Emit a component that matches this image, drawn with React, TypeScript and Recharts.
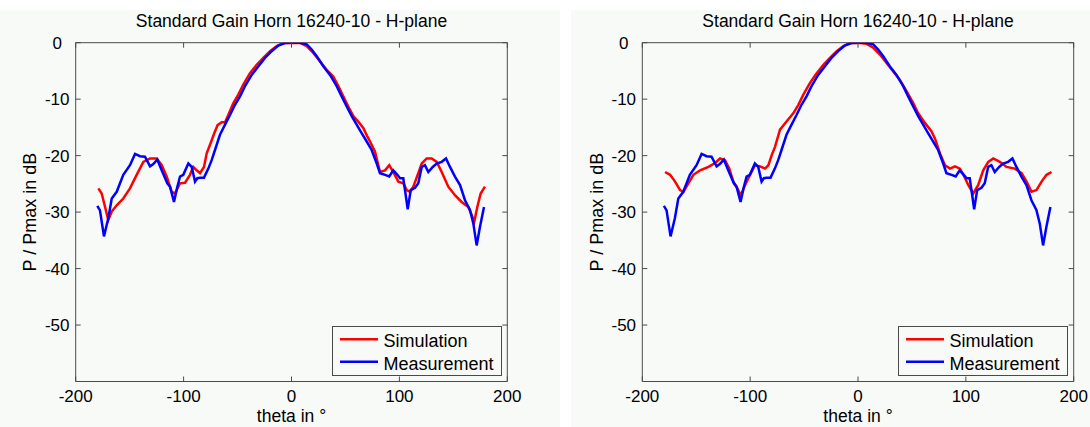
import React from 'react';
import { LineChart, Line, XAxis, YAxis, ReferenceArea, Legend } from 'recharts';

const AXIS = '#4a4a4a';
const BG = '#f8faf7';
const FONT = '"Liberation Sans", Arial, Helvetica, sans-serif';

// measured pattern (same in both panels)
const thetaMeas = [
  -180, -177.5, -173.8, -169.8, -166.6, -162, -155.9, -149.7, -145, -140.4, -135.8, -131.1, -128.1, -124.4,
  -120.3, -115.1, -112.6, -108.9, -105.8, -103.3, -100.3, -95.6, -92.5, -89.4, -87.3, -84.8, -81.1, -77.1,
  -74, -70.9, -66.3, -61.6, -57, -52.4, -47.7, -43.1, -36.9, -30.8, -24.6, -18.4, -12.2, -6, 0, 7.9, 14.1,
  18.7, 23.4, 29.6, 35.7, 41.9, 46.5, 51.2, 55.8, 60.4, 65, 69.7, 74.3, 79, 82, 86.7, 90.6, 94.3, 98.1, 100.6,
  103.6, 105.2, 107.7, 110.5, 114.5, 117.5, 120.7, 123.7, 126.8, 130.9, 134.6, 139.2, 143.2, 146.9, 151.5,
  156.2, 160.8, 165.4, 168.5, 171.6, 174.7, 178.4,
];
const dbMeas = [
  -28.9, -29.7, -34.3, -31.1, -27.6, -26.4, -23.4, -21.7, -19.7, -20.1, -20.2, -21.9, -21.5, -20.7,
  -22.6, -24.9, -25.5, -28.2, -25.5, -23.7, -23.4, -21.4, -22.0, -24.6, -24.0, -23.9, -23.9, -22.3,
  -20.8, -19.0, -16.3, -14.5, -12.8, -11, -9.5, -7.7, -5.7, -4.2, -2.7, -1.5, -0.5, -0.05, 0, 0, -0.3,
  -1.2, -2.4, -4.2, -5.7, -7.7, -9.5, -11.3, -13.0, -14.5, -16.0, -17.5, -19.0, -21.4, -23.1, -23.4, -23.7,
  -22.6, -23.4, -24.0, -24.0, -26.1, -29.5, -26.1, -25.7, -24.9, -22.0, -21.7, -22.9, -22.0, -21.4, -21.1,
  -20.5, -22.0, -23.7, -25.2, -27.9, -29.6, -32.0, -35.9, -32.6, -29.1,
];

// simulation, left panel
const thetaSimA = [
  -179, -175.9, -169.8, -166.6, -162, -155.9, -149.7, -143.5, -137.3, -131.1, -124.9, -120.3, -115.7, -111,
  -108, -103.3, -98.7, -94.1, -91, -87.9, -84.8, -81.1, -78.6, -75, -71.5, -68.5, -64.7, -61.6, -58.6, -53.9,
  -49.3, -44.7, -38.5, -32.3, -26.1, -19.9, -13.7, -7.6, 0, 7.9, 14.1, 20.2, 26.4, 32.6, 38.7, 43.4, 48,
  52.6, 57.3, 62.8, 66.5, 70, 72.8, 77.4, 82, 86.7, 90.6, 94.3, 99, 103.6, 106.8, 109.8, 112.9, 117.5, 120.7,
  125.3, 129.9, 134.6, 139.2, 145.3, 151.5, 157.7, 163.9, 167, 169.4, 172.2, 175.3, 179.3,
];
const dbSimA = [
  -25.8, -26.7, -31.4, -29.9, -28.8, -27.6, -25.8, -23.4, -21.1, -20.5, -20.5, -21.7, -23.7, -26.4,
  -26.7, -24.9, -24.8, -23.4, -22.0, -22.6, -23.1, -22.0, -19.6, -17.8, -16.0, -14.6, -14.1, -14.1, -12.8, -10.7,
  -9.2, -7.4, -5.4, -3.9, -2.7, -1.5, -0.6, -0.05, 0, -0.05, -0.6, -1.8, -3.3, -4.8, -6.0, -7.7, -9.5,
  -11.3, -13.0, -14.2, -15.1, -16.5, -17.5, -19.3, -22.9, -22.6, -21.7, -22.9, -24.6, -24.9, -26.1, -26.4, -25.5, -23.1, -21.4,
  -20.5, -20.5, -21.1, -22.9, -25.5, -27, -28.2, -29.1, -30.5, -31.7, -29.1, -26.7, -25.5,
];

// simulation, right panel
const thetaSimB = [
  -178.9, -174.2, -169.6, -165, -161.9, -157.3, -152.6, -146.4, -138.7, -132.5, -127.9, -123.3, -119.3,
  -115.6, -111.9, -108.7, -104.7, -100.1, -95.5, -90.8, -86.2, -83.1, -80, -76.9, -72.3, -66.1, -60, -55.3,
  -50.7, -44.5, -38.3, -32.1, -26, -19.8, -13.6, -7.4, 0, 8, 14.2, 20.3, 26.5, 32.7, 38.8, 45, 51.2, 55.8, 62,
  68.2, 71.4, 76, 80.6, 85.3, 89.9, 94.5, 98.5, 102.2, 106.9, 111.5, 116.1, 120.8, 125.4, 131.5, 137.7, 145.4,
  151.7, 156.3, 160.9, 165.5, 170.2, 174.8, 179.5,
];
const dbSimB = [
  -22.9, -23.4, -24.6, -26.1, -26.4, -24.9, -23.4, -22.6, -22.0, -21.3, -20.5, -20.8, -22.3,
  -24.6, -25.8, -27.0, -25.2, -23.4, -21.7, -21.9, -22.3, -21.7, -19.9, -18.4, -15.4, -13.9, -12.5, -11.0,
  -9.2, -7.1, -5.4, -3.9, -2.7, -1.5, -0.6, -0.05, 0, -0.2, -0.9, -2.1, -3.6, -5.1, -6.6, -8.6, -10.7, -12.5, -14.2,
  -15.7, -17.0, -19.6, -21.7, -22.3, -21.9, -22.3, -23.7, -25.2, -26.7, -25.2, -22.6, -21.1, -20.5, -21.1, -22.0, -22.3,
  -23.1, -24.6, -26.4, -26.1, -24.6, -23.4, -22.9,
];

const xTicks = [-200, -100, 0, 100, 200];
const yTicks = [-50, -40, -30, -20, -10, 0];
const seriesNames = ['Simulation', 'Measurement'];
const seriesColors = ['#ff0000', '#0000ff'];

const TITLE = 'Standard Gain Horn 16240-10 - H-plane';
const X_LABEL = 'theta in °';
const Y_LABEL = 'P / Pmax in dB';

function zip(t: number[], v: number[]) {
  return t.map((theta, i) => ({ theta, db: v[i] }));
}

const measRows = zip(thetaMeas, dbMeas);

const PANEL_TOP = 10;
const PANEL_H = 417;
const MT = 32.7;
const MB = 45.5;
const TICK = 5;

type PanelProps = { x: number; w: number; ml: number; mr: number; sim: Array<{ theta: number; db: number }> };

function Panel({ x, w, ml, mr, sim }: PanelProps) {
  const plotTop = MT;
  const plotBottom = PANEL_H - MB;
  const plotLeft = ml;
  const plotRight = w - mr;
  const cx = (plotLeft + plotRight) / 2;
  const cy = (plotTop + plotBottom) / 2;

  // ticks point inward, on both opposite sides of the box
  const xTick = (p: any) => (
    <g>
      <line x1={p.x} x2={p.x} y1={plotBottom} y2={plotBottom - TICK} stroke={AXIS} />
      <line x1={p.x} x2={p.x} y1={plotTop} y2={plotTop + TICK} stroke={AXIS} />
      <text x={p.x} y={plotBottom + 20} textAnchor="middle" fontSize={17} fontFamily={FONT} fill="#000">
        {p.payload.value}
      </text>
    </g>
  );

  const yTick = (p: any) => (
    <g>
      <line x1={plotLeft} x2={plotLeft + TICK} y1={p.y} y2={p.y} stroke={AXIS} />
      <line x1={plotRight - TICK} x2={plotRight} y1={p.y} y2={p.y} stroke={AXIS} />
      <text x={plotLeft - 18.5} y={p.y + 6} textAnchor="middle" fontSize={17} fontFamily={FONT} fill="#000">
        {p.payload.value}
      </text>
    </g>
  );

  const legendBox = (props: any) => {
    const items = [...(props.payload || [])].sort(
      (a: any, b: any) => seriesNames.indexOf(a.value) - seriesNames.indexOf(b.value)
    );
    return (
      <svg width={170} height={50} style={{ display: 'block' }}>
        <rect x={0.5} y={0.5} width={169} height={49} fill={BG} stroke={AXIS} />
        {items.map((it: any, i: number) => (
          <g key={it.value}>
            <line x1={8} x2={46} y1={13.3 + i * 22.4} y2={13.3 + i * 22.4} stroke={it.color} strokeWidth={2.5} />
            <text x={51.5} y={20.7 + i * 23.3} fontSize={18} fontFamily={FONT} fill="#000">
              {it.value}
            </text>
          </g>
        ))}
      </svg>
    );
  };

  return (
    <div style={{ position: 'absolute', left: x, top: PANEL_TOP, width: w, height: PANEL_H, background: BG }}>
      <LineChart width={w} height={PANEL_H} margin={{ top: MT, right: mr, bottom: MB - 1, left: ml - 1 }}>
        <ReferenceArea x1={-200} x2={200} y1={-60} y2={0} fill="none" stroke={AXIS} strokeWidth={1} ifOverflow="visible" />
        <XAxis
          dataKey="theta"
          type="number"
          domain={[-200, 200]}
          ticks={xTicks}
          interval={0}
          height={1}
          tickSize={0}
          tickMargin={0}
          axisLine={false}
          tickLine={false}
          tick={xTick}
          allowDataOverflow
        />
        <YAxis
          type="number"
          domain={[-60, 0]}
          ticks={yTicks}
          interval={0}
          width={1}
          tickSize={0}
          tickMargin={0}
          axisLine={false}
          tickLine={false}
          tick={yTick}
          allowDataOverflow
        />
        <Line data={sim} dataKey="db" name={seriesNames[0]} stroke={seriesColors[0]} strokeWidth={2.5} dot={false} type="linear" isAnimationActive={false} />
        <Line data={measRows} dataKey="db" name={seriesNames[1]} stroke={seriesColors[1]} strokeWidth={2.5} dot={false} type="linear" isAnimationActive={false} />
        <Legend
          layout="horizontal"
          verticalAlign="middle"
          align="center"
          wrapperStyle={{ left: plotRight - 175.6, top: 316, width: 170, height: 50 }}
          content={legendBox}
        />
      </LineChart>
      <svg width={w} height={PANEL_H} style={{ position: 'absolute', left: 0, top: 0, pointerEvents: 'none' }}>
        <text x={cx} y={17} textAnchor="middle" fontSize={17.5} fontFamily={FONT} fill="#000">{TITLE}</text>
        <text x={cx} y={412} textAnchor="middle" fontSize={17.5} fontFamily={FONT} fill="#000">{X_LABEL}</text>
        <text
          x={plotLeft - 39.5}
          y={cy}
          textAnchor="middle"
          fontSize={18}
          fontFamily={FONT}
          fill="#000"
          transform={`rotate(-90 ${plotLeft - 39.5} ${cy})`}
        >
          {Y_LABEL}
        </text>
      </svg>
    </div>
  );
}

export default function App() {
  return (
    <div style={{ position: 'absolute', left: 0, top: 0, width: 1090, height: 427, background: '#fff', overflow: 'hidden' }}>
      <Panel x={0} w={560} ml={75.7} mr={52.7} sim={zip(thetaSimA, dbSimA)} />
      <Panel x={571} w={519} ml={71.3} mr={16.3} sim={zip(thetaSimB, dbSimB)} />
    </div>
  );
}
